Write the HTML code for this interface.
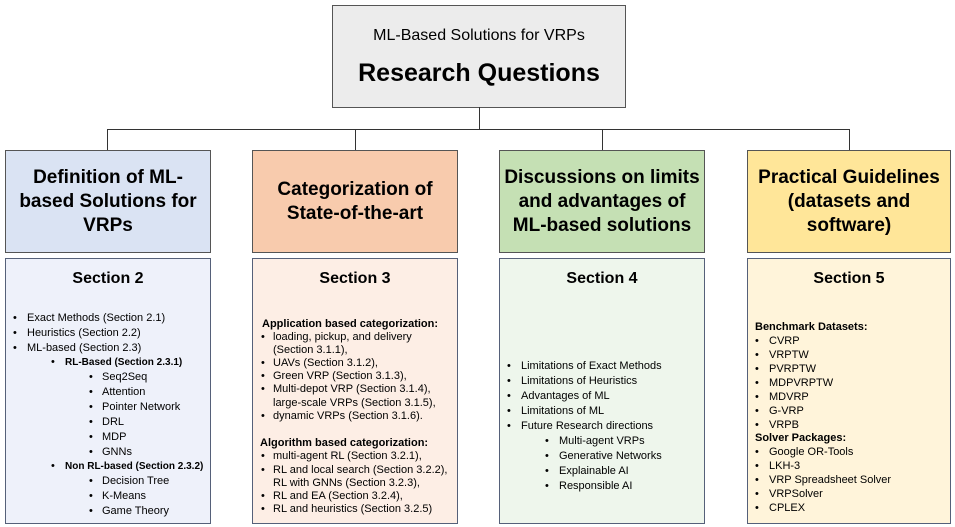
<!DOCTYPE html>
<html><head><meta charset="utf-8"><style>
body{margin:0;width:955px;height:527px;background:#fff;position:relative;overflow:hidden;font-family:"Liberation Sans",sans-serif;color:#000}
.b{position:absolute;box-sizing:border-box}
.h{border:1.5px solid #555;display:flex;align-items:center;justify-content:center;text-align:center;font-weight:bold;font-size:19px;line-height:24px}
.s{border:1.5px solid #556079}
.t{position:absolute;white-space:nowrap;font-size:11px;line-height:13px}
.ln{position:absolute;background:#333}
.sec{position:absolute;font-weight:bold;font-size:16px;width:100%;text-align:center;top:11px;left:0}
</style></head><body>
<div class="b" style="left:332px;top:5px;width:294px;height:103px;background:#ececec;border:1.5px solid #555;text-align:center">
<div style="font-size:16px;margin-top:21px">ML-Based Solutions for VRPs</div>
<div style="font-size:25px;font-weight:bold;margin-top:14px">Research Questions</div></div>
<div class="ln" style="left:479px;top:107px;width:1px;height:22px"></div>
<div class="ln" style="left:107px;top:129px;width:743px;height:1px"></div>
<div class="ln" style="left:107px;top:129px;width:1px;height:21px"></div>
<div class="ln" style="left:355px;top:129px;width:1px;height:21px"></div>
<div class="ln" style="left:602px;top:129px;width:1px;height:21px"></div>
<div class="ln" style="left:849px;top:129px;width:1px;height:21px"></div>

<div class="b h" style="left:5px;top:150px;width:206px;height:103px;background:#dae3f3">Definition of ML-<br>based Solutions for<br>VRPs</div>
<div class="b h" style="left:252px;top:150px;width:206px;height:103px;background:#f8cbad">Categorization of<br>State-of-the-art</div>
<div class="b h" style="left:499px;top:150px;width:206px;height:103px;background:#c5e0b4">Discussions on limits<br>and advantages of<br>ML-based solutions</div>
<div class="b h" style="left:747px;top:150px;width:204px;height:103px;background:#ffe699">Practical Guidelines<br>(datasets and<br>software)</div>

<div class="b s" style="left:5px;top:258px;width:206px;height:266px;background:#eef1fa"><div class="sec">Section 2</div></div>
<div class="b s" style="left:252px;top:258px;width:206px;height:266px;background:#fdeee5"><div class="sec">Section 3</div></div>
<div class="b s" style="left:499px;top:258px;width:206px;height:266px;background:#eef6ec"><div class="sec">Section 4</div></div>
<div class="b s" style="left:747px;top:258px;width:204px;height:266px;background:#fff4da"><div class="sec">Section 5</div></div>

<!-- Box1 -->
<div class="t" style="left:13px;top:312px">•</div><div class="t" style="left:27px;top:312px">Exact Methods (Section 2.1)</div>
<div class="t" style="left:13px;top:327px">•</div><div class="t" style="left:27px;top:327px">Heuristics (Section 2.2)</div>
<div class="t" style="left:13px;top:342px">•</div><div class="t" style="left:27px;top:342px">ML-based (Section 2.3)</div>
<div class="t" style="left:51px;top:356px">•</div><div class="t" style="left:65px;top:356px;font-weight:bold;font-size:10px">RL-Based (Section 2.3.1)</div>
<div class="t" style="left:89px;top:371px">•</div><div class="t" style="left:102px;top:371px">Seq2Seq</div>
<div class="t" style="left:89px;top:386px">•</div><div class="t" style="left:102px;top:386px">Attention</div>
<div class="t" style="left:89px;top:401px">•</div><div class="t" style="left:102px;top:401px">Pointer Network</div>
<div class="t" style="left:89px;top:416px">•</div><div class="t" style="left:102px;top:416px">DRL</div>
<div class="t" style="left:89px;top:431px">•</div><div class="t" style="left:102px;top:431px">MDP</div>
<div class="t" style="left:89px;top:446px">•</div><div class="t" style="left:102px;top:446px">GNNs</div>
<div class="t" style="left:51px;top:460px">•</div><div class="t" style="left:65px;top:460px;font-weight:bold;font-size:10px">Non RL-based (Section 2.3.2)</div>
<div class="t" style="left:89px;top:475px">•</div><div class="t" style="left:102px;top:475px">Decision Tree</div>
<div class="t" style="left:89px;top:490px">•</div><div class="t" style="left:102px;top:490px">K-Means</div>
<div class="t" style="left:89px;top:505px">•</div><div class="t" style="left:102px;top:505px">Game Theory</div>

<!-- Box2 -->
<div class="t" style="left:262px;top:318px;font-weight:bold">Application based categorization:</div>
<div class="t" style="left:261px;top:331px">•</div><div class="t" style="left:273px;top:331px">loading, pickup, and delivery</div>
<div class="t" style="left:273px;top:344px">(Section 3.1.1),</div>
<div class="t" style="left:261px;top:357px">•</div><div class="t" style="left:273px;top:357px">UAVs (Section 3.1.2),</div>
<div class="t" style="left:261px;top:370px">•</div><div class="t" style="left:273px;top:370px">Green VRP (Section 3.1.3),</div>
<div class="t" style="left:261px;top:383px">•</div><div class="t" style="left:273px;top:383px">Multi-depot VRP (Section 3.1.4),</div>
<div class="t" style="left:273px;top:397px">large-scale VRPs (Section 3.1.5),</div>
<div class="t" style="left:261px;top:410px">•</div><div class="t" style="left:273px;top:410px">dynamic VRPs (Section 3.1.6).</div>
<div class="t" style="left:260px;top:437px;font-weight:bold">Algorithm based categorization:</div>
<div class="t" style="left:261px;top:450px">•</div><div class="t" style="left:273px;top:450px">multi-agent RL (Section 3.2.1),</div>
<div class="t" style="left:261px;top:464px">•</div><div class="t" style="left:273px;top:464px">RL and local search (Section 3.2.2),</div>
<div class="t" style="left:273px;top:477px">RL with GNNs (Section 3.2.3),</div>
<div class="t" style="left:261px;top:490px">•</div><div class="t" style="left:273px;top:490px">RL and EA (Section 3.2.4),</div>
<div class="t" style="left:261px;top:503px">•</div><div class="t" style="left:273px;top:503px">RL and heuristics (Section 3.2.5)</div>

<!-- Box3 -->
<div class="t" style="left:507px;top:360px">•</div><div class="t" style="left:521px;top:360px">Limitations of Exact Methods</div>
<div class="t" style="left:507px;top:375px">•</div><div class="t" style="left:521px;top:375px">Limitations of Heuristics</div>
<div class="t" style="left:507px;top:390px">•</div><div class="t" style="left:521px;top:390px">Advantages of ML</div>
<div class="t" style="left:507px;top:405px">•</div><div class="t" style="left:521px;top:405px">Limitations of ML</div>
<div class="t" style="left:507px;top:420px">•</div><div class="t" style="left:521px;top:420px">Future Research directions</div>
<div class="t" style="left:545px;top:435px">•</div><div class="t" style="left:559px;top:435px">Multi-agent VRPs</div>
<div class="t" style="left:545px;top:450px">•</div><div class="t" style="left:559px;top:450px">Generative Networks</div>
<div class="t" style="left:545px;top:465px">•</div><div class="t" style="left:559px;top:465px">Explainable AI</div>
<div class="t" style="left:545px;top:480px">•</div><div class="t" style="left:559px;top:480px">Responsible AI</div>

<!-- Box4 -->
<div class="t" style="left:755px;top:321px;font-weight:bold">Benchmark Datasets:</div>
<div class="t" style="left:755px;top:335px">•</div><div class="t" style="left:769px;top:335px">CVRP</div>
<div class="t" style="left:755px;top:349px">•</div><div class="t" style="left:769px;top:349px">VRPTW</div>
<div class="t" style="left:755px;top:363px">•</div><div class="t" style="left:769px;top:363px">PVRPTW</div>
<div class="t" style="left:755px;top:377px">•</div><div class="t" style="left:769px;top:377px">MDPVRPTW</div>
<div class="t" style="left:755px;top:391px">•</div><div class="t" style="left:769px;top:391px">MDVRP</div>
<div class="t" style="left:755px;top:405px">•</div><div class="t" style="left:769px;top:405px">G-VRP</div>
<div class="t" style="left:755px;top:419px">•</div><div class="t" style="left:769px;top:419px">VRPB</div>
<div class="t" style="left:755px;top:432px;font-weight:bold">Solver Packages:</div>
<div class="t" style="left:755px;top:446px">•</div><div class="t" style="left:769px;top:446px">Google OR-Tools</div>
<div class="t" style="left:755px;top:460px">•</div><div class="t" style="left:769px;top:460px">LKH-3</div>
<div class="t" style="left:755px;top:474px">•</div><div class="t" style="left:769px;top:474px">VRP Spreadsheet Solver</div>
<div class="t" style="left:755px;top:488px">•</div><div class="t" style="left:769px;top:488px">VRPSolver</div>
<div class="t" style="left:755px;top:502px">•</div><div class="t" style="left:769px;top:502px">CPLEX</div>
</body></html>
